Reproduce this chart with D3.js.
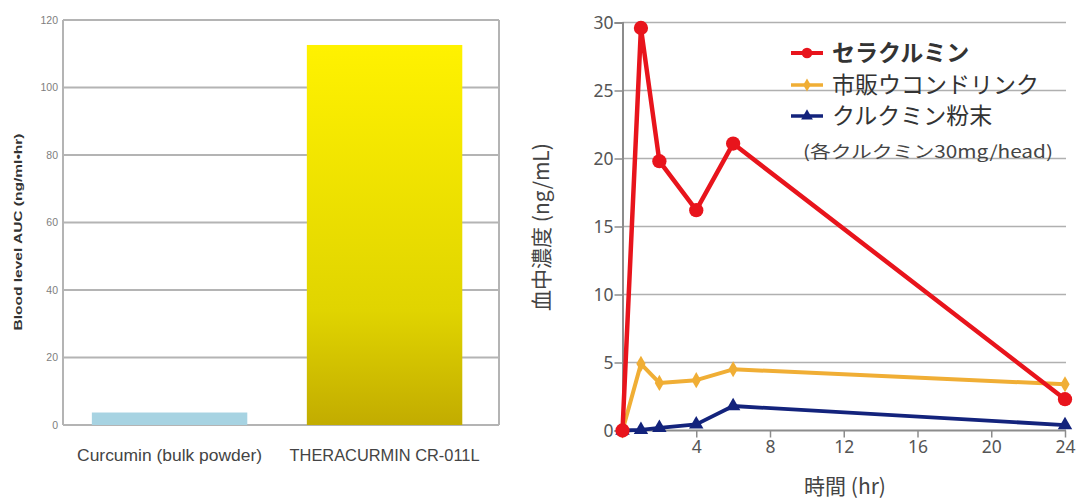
<!DOCTYPE html>
<html>
<head>
<meta charset="utf-8">
<script src="https://cdn.jsdelivr.net/npm/d3@7"></script>
<style>
  html, body { margin: 0; padding: 0; background: #ffffff; }
  svg { display: block; }
</style>
</head>
<body>
<svg id="chart" width="1083" height="500"></svg>
<script>
// ---- Left panel: AUC bar chart ----
const aucCategories = ["Curcumin (bulk powder)", "THERACURMIN CR-011L"];
const aucValues = [3.7, 112.6];
const aucTicks = [0, 20, 40, 60, 80, 100, 120];

// ---- Right panel: plasma concentration over time ----
const timePoints = [0, 1, 2, 4, 6, 24];
const seriesNames = ["セラクルミン", "市販ウコンドリンク", "クルクミン粉末"];
const theracurminConc = [0, 29.6, 19.8, 16.2, 21.1, 2.3];
const turmericDrinkConc = [0, 4.9, 3.5, 3.7, 4.5, 3.4];
const curcuminPowderConc = [0, 0.05, 0.2, 0.45, 1.8, 0.4];
const concTicks = [0, 5, 10, 15, 20, 25, 30];
const timeTicks = [4, 8, 12, 16, 20, 24];
const doseNote = "(各クルクミン30mg/head)";

const svg = d3.select("#chart");

// ================= Left panel =================
const L = { left: 63, right: 499, top: 20, bottom: 425 };
const xBand = d3.scaleBand().domain(aucCategories).range([L.left, L.right])
  .paddingInner(0.277).paddingOuter(0.1525).align(0.44);
const yAuc = d3.scaleLinear().domain([0, 120]).range([L.bottom, L.top]);

const defs = svg.append("defs");
const grad = defs.append("linearGradient").attr("id", "goldGrad")
  .attr("x1", 0).attr("y1", 0).attr("x2", 0).attr("y2", 1);
grad.append("stop").attr("offset", "0%").attr("stop-color", "#fff200");
grad.append("stop").attr("offset", "70%").attr("stop-color", "#e0d400");
grad.append("stop").attr("offset", "100%").attr("stop-color", "#c2ac00");

const left = svg.append("g");

// gridlines
left.append("g").selectAll("line").data(aucTicks).join("line")
  .attr("x1", L.left).attr("x2", L.right)
  .attr("y1", d => yAuc(d)).attr("y2", d => yAuc(d))
  .attr("stroke", "#b4b4b4").attr("stroke-width", 2);
// side frame
left.append("line").attr("x1", L.left).attr("x2", L.left)
  .attr("y1", yAuc(120)).attr("y2", yAuc(0)).attr("stroke", "#b4b4b4").attr("stroke-width", 2);
left.append("line").attr("x1", L.right).attr("x2", L.right)
  .attr("y1", yAuc(120)).attr("y2", yAuc(0)).attr("stroke", "#b4b4b4").attr("stroke-width", 2);

// bars
left.append("g").selectAll("rect").data(aucValues).join("rect")
  .attr("x", (d, i) => xBand(aucCategories[i]))
  .attr("width", xBand.bandwidth())
  .attr("y", d => yAuc(d))
  .attr("height", d => yAuc(0) - yAuc(d))
  .attr("fill", (d, i) => i === 0 ? "#a7d3e2" : "url(#goldGrad)");

// y tick labels
const yAxisL = d3.axisLeft(yAuc).tickValues(aucTicks).tickSize(0).tickPadding(5);
const gAxL = left.append("g").attr("transform", `translate(${L.left},0)`).call(yAxisL);
gAxL.select(".domain").remove();
gAxL.selectAll("text").attr("font-family", "Liberation Sans, Arial, sans-serif")
  .attr("font-size", 10.5).attr("fill", "#7e7e7e");

// category labels
left.append("g").selectAll("text").data(aucCategories).join("text")
  .attr("x", d => xBand(d) + xBand.bandwidth() / 2)
  .attr("y", 461)
  .attr("text-anchor", "middle")
  .attr("font-family", "Liberation Sans, Arial, sans-serif")
  .attr("font-size", 16)
  .attr("fill", "#444")
  .attr("textLength", (d, i) => i === 0 ? 185 : 190)
  .attr("lengthAdjust", "spacingAndGlyphs")
  .text(d => d);

// y axis title
left.append("text")
  .attr("transform", "translate(22,232) rotate(-90)")
  .attr("text-anchor", "middle")
  .attr("font-family", "Liberation Sans, Arial, sans-serif")
  .attr("font-weight", "bold")
  .attr("font-size", 10.5)
  .attr("fill", "#333")
  .attr("textLength", 197)
  .attr("lengthAdjust", "spacingAndGlyphs")
  .text("Blood level AUC (ng/ml•hr)");

// ================= Right panel =================
const R = { left: 622.5, right: 1065, top: 22.5, bottom: 430.5, gridRight: 1066 };
const xT = d3.scaleLinear().domain([0, 24]).range([R.left, R.right]);
const yC = d3.scaleLinear().domain([0, 30]).range([R.bottom, R.top]);
const right = svg.append("g");
const tickFont = "Noto Sans, DejaVu Sans, sans-serif";

// horizontal gridlines
right.append("g").selectAll("line").data(concTicks.filter(d => d > 0)).join("line")
  .attr("x1", R.left).attr("x2", R.gridRight)
  .attr("y1", d => yC(d)).attr("y2", d => yC(d))
  .attr("stroke", "#b0b0b0").attr("stroke-width", 1.6);

// y axis
const yAxisR = d3.axisLeft(yC).tickValues(concTicks).tickSize(8).tickPadding(1);
const gAxY = right.append("g").attr("transform", `translate(${R.left},0)`).call(yAxisR);
gAxY.select(".domain").attr("stroke", "#8c8c8c").attr("stroke-width", 2);
gAxY.selectAll(".tick line").attr("stroke", "#8c8c8c").attr("stroke-width", 1.5)
  .attr("x1", 0).attr("x2", -8);
gAxY.selectAll("text").attr("font-family", tickFont).attr("font-size", 17.5)
  .attr("fill", "#555").attr("x", -9);

// x axis
const xAxisR = d3.axisBottom(xT).tickValues(timeTicks).tickSize(7).tickPadding(3);
const gAxX = right.append("g").attr("transform", `translate(0,${R.bottom})`).call(xAxisR);
gAxX.select(".domain").attr("d", `M${R.left},0H${R.gridRight}`)
  .attr("stroke", "#8c8c8c").attr("stroke-width", 2);
gAxX.selectAll(".tick line").attr("stroke", "#8c8c8c").attr("stroke-width", 1.5);
gAxX.selectAll("text").attr("font-family", tickFont).attr("font-size", 17.5).attr("fill", "#555");

// axis titles
right.append("text")
  .attr("transform", `translate(549,227) rotate(-90)`)
  .attr("text-anchor", "middle")
  .attr("font-family", "Noto Sans CJK JP, sans-serif")
  .attr("font-size", 21)
  .attr("fill", "#444")
  .text("血中濃度 (ng/mL)");
right.append("text")
  .attr("x", 845).attr("y", 494)
  .attr("text-anchor", "middle")
  .attr("font-family", "Noto Sans CJK JP, sans-serif")
  .attr("font-size", 21)
  .attr("fill", "#444")
  .text("時間 (hr)");

// series
const series = [
  { name: seriesNames[2], values: curcuminPowderConc, color: "#13237c", width: 3.8, symbol: d3.symbolTriangle, size: 90 },
  { name: seriesNames[1], values: turmericDrinkConc, color: "#f0ae35", width: 4, symbol: d3.symbolDiamond, size: 75 },
  { name: seriesNames[0], values: theracurminConc, color: "#e8141c", width: 4.5, symbol: d3.symbolCircle, size: 160 }
];

const line = d3.line().x(d => xT(d[0])).y(d => yC(d[1]));

series.forEach(s => {
  const pts = timePoints.map((t, i) => [t, s.values[i]]);
  const g = right.append("g");
  g.append("path").datum(pts).attr("d", line)
    .attr("fill", "none").attr("stroke", s.color)
    .attr("stroke-width", s.width).attr("stroke-linejoin", "round");
  g.selectAll("path.pt").data(pts).join("path").attr("class", "pt")
    .attr("transform", d => `translate(${xT(d[0])},${yC(d[1])})`)
    .attr("d", d3.symbol().type(s.symbol).size(s.size))
    .attr("fill", s.color);
});

// legend
const legendItems = [
  { name: seriesNames[0], color: "#e8141c", symbol: d3.symbolCircle, size: 90, weight: "bold", width: 4 },
  { name: seriesNames[1], color: "#f0ae35", symbol: d3.symbolDiamond, size: 50, weight: "normal", width: 3.5 },
  { name: seriesNames[2], color: "#13237c", symbol: d3.symbolTriangle, size: 60, weight: "normal", width: 3.5 }
];
const legend = right.append("g");
const rowY = [53, 85, 116];
legendItems.forEach((it, i) => {
  const y = rowY[i];
  legend.append("line").attr("x1", 791).attr("x2", 823).attr("y1", y).attr("y2", y)
    .attr("stroke", it.color).attr("stroke-width", it.width);
  legend.append("path").attr("transform", `translate(807,${y})`)
    .attr("d", d3.symbol().type(it.symbol).size(it.size)).attr("fill", it.color);
  legend.append("text").attr("x", 832).attr("y", y + 8)
    .attr("font-family", "Noto Sans CJK JP, sans-serif")
    .attr("font-size", 23)
    .attr("font-weight", it.weight)
    .attr("fill", "#333")
    .text(it.name);
});
legend.append("text").attr("x", 803).attr("y", 158)
  .attr("font-family", "Noto Sans CJK JP, sans-serif")
  .attr("font-size", 17)
  .attr("fill", "#444")
  .attr("textLength", 250)
  .attr("lengthAdjust", "spacingAndGlyphs")
  .text(doseNote);
</script>
</body>
</html>
